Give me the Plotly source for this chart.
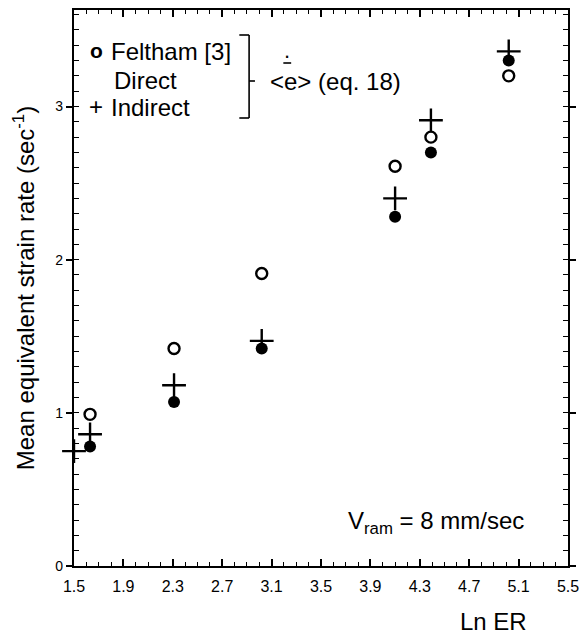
import plotly.graph_objects as go

# ---- data ----
ln_er = [1.63, 2.31, 3.02, 4.10, 4.39, 5.02]
feltham = [0.99, 1.42, 1.91, 2.61, 2.80, 3.20]
direct = [0.78, 1.07, 1.42, 2.28, 2.70, 3.30]
indirect_x = [1.50, 1.63, 2.31, 3.02, 4.10, 4.39, 5.02]
indirect = [0.75, 0.86, 1.18, 1.47, 2.40, 2.91, 3.36]

x_ticks = [1.5, 1.9, 2.3, 2.7, 3.1, 3.5, 3.9, 4.3, 4.7, 5.1, 5.5]
x_tick_labels = ["1.5", "1.9", "2.3", "2.7", "3.1", "3.5", "3.9", "4.3", "4.7", "5.1", "5.5"]
y_ticks = [0, 1, 2, 3]
y_tick_labels = ["0", "1", "2", "3"]

FONT = "Liberation Sans, Arial, sans-serif"
NARROW = "Liberation Sans Narrow, Arial Narrow, Liberation Sans, sans-serif"

fig = go.Figure()
fig.add_trace(go.Scatter(
    x=ln_er, y=feltham, mode="markers", name="Feltham [3]", cliponaxis=False,
    marker=dict(symbol="circle-open", size=11, color="black", line=dict(width=2.4, color="black"))))
fig.add_trace(go.Scatter(
    x=ln_er, y=direct, mode="markers", name="Direct", cliponaxis=False,
    marker=dict(symbol="circle", size=12, color="black", line=dict(width=0))))
fig.add_trace(go.Scatter(
    x=indirect_x, y=indirect, mode="markers", name="Indirect", cliponaxis=False,
    marker=dict(symbol="cross-thin", size=17, color="black", line=dict(width=2.4, color="black"))))

L, R, T, B = 74, 8, 10, 72
W, H = 587, 638
pw, ph = W - L - R, H - T - B


def px(xp):
    return (xp - L) / pw


def py(yp):
    return (H - B - yp) / ph


ann = []
# legend block
ann.append(dict(x=px(97), y=py(50), text="<b>o</b>", font=dict(size=21, family=FONT, color="black")))
ann.append(dict(x=px(110), y=py(52), text="Feltham [3]", xanchor="left",
                font=dict(size=24, family=FONT, color="black")))
ann.append(dict(x=px(113), y=py(81), text="Direct", xanchor="left",
                font=dict(size=24, family=FONT, color="black")))
ann.append(dict(x=px(96), y=py(106), text="+", font=dict(size=24, family=FONT, color="black")))
ann.append(dict(x=px(110), y=py(107), text="Indirect", xanchor="left",
                font=dict(size=24, family=FONT, color="black")))
ann.append(dict(x=px(272), y=py(82), text="&lt;e&gt; (eq. 18)", xanchor="left",
                font=dict(size=24, family=FONT, color="black")))
ann.append(dict(x=px(292), y=py(50), text=".", font=dict(size=22, family=FONT, color="black")))
# V_ram note
ann.append(dict(x=px(352), y=py(522), text="V<sub>ram</sub> = 8 mm/sec", xanchor="left",
                font=dict(size=24, family=FONT, color="black")))
# x title
ann.append(dict(x=px(503), y=py(621), text="Ln ER",
                font=dict(size=24, family=FONT, color="black")))
for a in ann:
    a.update(xref="paper", yref="paper", showarrow=False, yanchor="middle")
    if "xanchor" not in a:
        a["xanchor"] = "center"

shapes = [
    # bracket
    dict(type="line", xref="paper", yref="paper", x0=px(253), x1=px(253), y0=py(35), y1=py(118)),
    dict(type="line", xref="paper", yref="paper", x0=px(243), x1=px(253), y0=py(35), y1=py(35)),
    dict(type="line", xref="paper", yref="paper", x0=px(243), x1=px(253), y0=py(118), y1=py(118)),
    dict(type="line", xref="paper", yref="paper", x0=px(253), x1=px(259), y0=py(81), y1=py(81)),
    # bar over e
    dict(type="line", xref="paper", yref="paper", x0=px(288), x1=px(296), y0=py(63), y1=py(63)),
]
for s in shapes:
    s["line"] = dict(color="black", width=1.6)

fig.update_layout(
    width=W, height=H,
    margin=dict(l=L, r=R, t=T, b=B),
    paper_bgcolor="white", plot_bgcolor="white",
    showlegend=False,
    annotations=ann, shapes=shapes,
    font=dict(family=FONT, color="black"),
    xaxis=dict(
        range=[1.5, 5.5], tickmode="array", tickvals=x_ticks, ticktext=x_tick_labels,
        showgrid=False, zeroline=False, showline=True, linecolor="black", linewidth=2.2,
        mirror="allticks", ticks="inside", ticklen=7, tickwidth=1.6, tickcolor="black",
        tickfont=dict(size=16, family=NARROW, color="black"), ticklabelstandoff=5,
        minor=dict(dtick=0.1, tick0=1.5, ticks="inside", ticklen=4, tickwidth=1.2, tickcolor="black"),
    ),
    yaxis=dict(
        range=[0, 3.63], tickmode="array", tickvals=y_ticks, ticktext=y_tick_labels,
        showgrid=False, zeroline=False, showline=True, linecolor="black", linewidth=2.2,
        mirror="allticks", ticks="outside", ticklen=6, tickwidth=1.6, tickcolor="black",
        tickfont=dict(size=14, family=NARROW, color="black"),
        minor=dict(dtick=0.1, tick0=0, ticks="inside", ticklen=5, tickwidth=1.2, tickcolor="black"),
        title=dict(text="Mean equivalent strain rate (sec<sup>-1</sup>)",
                   font=dict(size=24, family=FONT, color="black"), standoff=14),
    ),
)

fig.write_html("out.html")
